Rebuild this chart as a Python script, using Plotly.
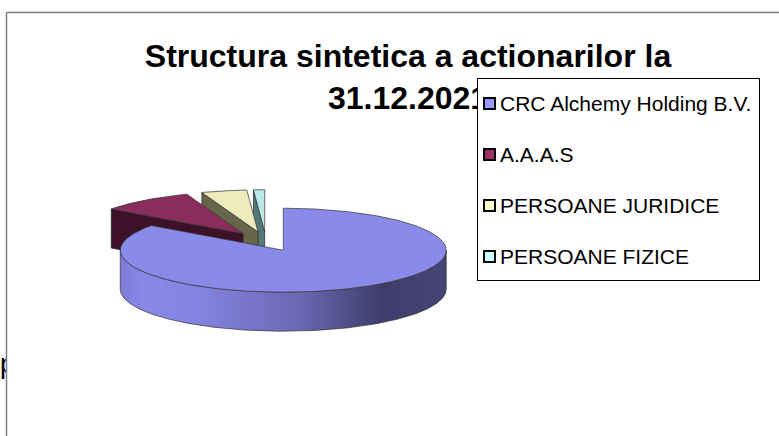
import math
import plotly.graph_objects as go

TITLE = "Structura sintetica a actionarilor la<br>31.12.2021"
categories = ["CRC Alchemy Holding B.V.", "A.A.A.S", "PERSOANE JURIDICE", "PERSOANE FIZICE"]
values = [85.0, 9.4, 4.5, 1.1]
top_colors = ["#8A8AEA", "#8A2C5C", "#EDEBBB", "#B8EAEA"]
cut_colors = ["#45447A", "#3D1228", "#66664A", "#527878"]
legend_colors = ["#9999FF", "#993366", "#FFFFCC", "#CCFFFF"]

CX, CY = 266.0, 241.5
RX, RY = 163.0, 42.0
DEPTH = 39.0
EXPLODE = 38.0

W, H = 779, 436
fig = go.Figure()


def pt(cx, cy, ang, r=1.0):
    return cx + RX * r * math.sin(ang), cy - RY * r * math.cos(ang)


def arc(cx, cy, a0, a1, step=0.01):
    n = max(2, int(abs(a1 - a0) / step))
    return [pt(cx, cy, a0 + (a1 - a0) * i / n) for i in range(n + 1)]


def poly(points, fill=None, line="#333333", lw=0.7, **kw):
    xs = [p[0] for p in points] + [points[0][0]]
    ys = [p[1] for p in points] + [points[0][1]]
    args = dict(x=xs, y=ys, mode="lines", fill="toself", line=dict(color=line, width=lw),
                hoverinfo="skip", showlegend=False)
    if fill:
        args["fillcolor"] = fill
    args.update(kw)
    fig.add_trace(go.Scatter(**args))


# stray clipped text at the left edge of the page
fig.add_trace(go.Scatter(x=[0], y=[366], mode="text", text=["p"], textposition="middle right",
                         textfont=dict(family="Liberation Sans", size=27, color="#000000"),
                         hoverinfo="skip", showlegend=False))

total = sum(values)
spans = []
a = 0.0
for v in values:
    b = a + v / total * 2 * math.pi
    spans.append((a, b))
    a = b

# back slices, right to left so each one overlaps the next
for i in [3, 2, 1]:
    a0, a1 = spans[i]
    mid = (a0 + a1) / 2
    cx = CX + EXPLODE * math.sin(mid)
    cy = CY - EXPLODE * (RY / RX) * math.cos(mid)
    ox, oy = pt(cx, cy, a0)
    # the cut face that looks toward the viewer
    poly([(ox, oy), (cx, cy), (cx, cy + DEPTH), (ox, oy + DEPTH)], fill=cut_colors[i], line="#222222")
    poly([(cx, cy)] + arc(cx, cy, a0, a1), fill=top_colors[i])

# main slice
a0, a1 = spans[0]
mid = (a0 + a1) / 2
cx = CX + EXPLODE * math.sin(mid)
cy = CY - EXPLODE * (RY / RX) * math.cos(mid)
front = arc(cx, cy, math.pi / 2, a1 if a1 < 3 * math.pi / 2 else 3 * math.pi / 2)
wall = front + [(p[0], p[1] + DEPTH) for p in reversed(front)]
poly(wall, line="#333333",
     fillgradient=dict(type="horizontal",
                       colorscale=[[0, "#7C7CD6"], [0.07, "#8888E8"], [0.22, "#8484E2"],
                                   [0.55, "#6A69B4"], [0.8, "#3E3D6A"], [1, "#454475"]]))
poly([(cx, cy)] + arc(cx, cy, a0, a1), fill=top_colors[0])

# hairline frame, stray text cover
shapes = [
    dict(type="rect", layer="above", x0=7, x1=20, y0=350, y1=395, fillcolor="#FFFFFF", line_width=0),
    dict(type="line", layer="above", x0=6.5, x1=6.5, y0=12.5, y1=436, line=dict(color="#808080", width=1.5)),
    dict(type="line", layer="above", x0=6.5, x1=779, y0=12.5, y1=12.5, line=dict(color="#808080", width=1.5)),
]

annotations = [
    dict(x=477, y=78, xref="x", yref="y", xanchor="left", yanchor="top", text=" ", width=281, height=201,
         showarrow=False, bgcolor="#FFFFFF", bordercolor="#000000", borderwidth=1, borderpad=0),
]
LEG_TOP, LEG_STEP = 103.0, 51.0
for i, name in enumerate(categories):
    y = LEG_TOP + i * LEG_STEP
    annotations.append(dict(x=499, y=y, xref="x", yref="y", xanchor="left", yanchor="middle", text=name,
                            showarrow=False, borderpad=0,
                            font=dict(family="Liberation Sans", size=21, color="#000000")))
    annotations.append(dict(x=483, y=y, xref="x", yref="y", xanchor="left", yanchor="middle",
                            text=" ", width=9, height=9, showarrow=False, bgcolor=legend_colors[i],
                            bordercolor="#000000", borderwidth=2, borderpad=0))

fig.update_layout(
    width=W, height=H, autosize=False,
    margin=dict(l=0, r=0, t=0, b=0),
    paper_bgcolor="#FFFFFF", plot_bgcolor="#FFFFFF",
    xaxis=dict(range=[0, W], visible=False, fixedrange=True),
    yaxis=dict(range=[H, 0], visible=False, fixedrange=True),
    title=dict(text=TITLE, x=408 / W, xanchor="center", y=1 - 67 / H, yanchor="middle",
               font=dict(family="Liberation Sans", size=32, color="#000000", weight="bold")),
    shapes=shapes, annotations=annotations, showlegend=False,
)

fig.write_html("out.html", config={"displayModeBar": False},
               post_script="document.body.style.margin='0';document.documentElement.style.overflow='hidden';")
